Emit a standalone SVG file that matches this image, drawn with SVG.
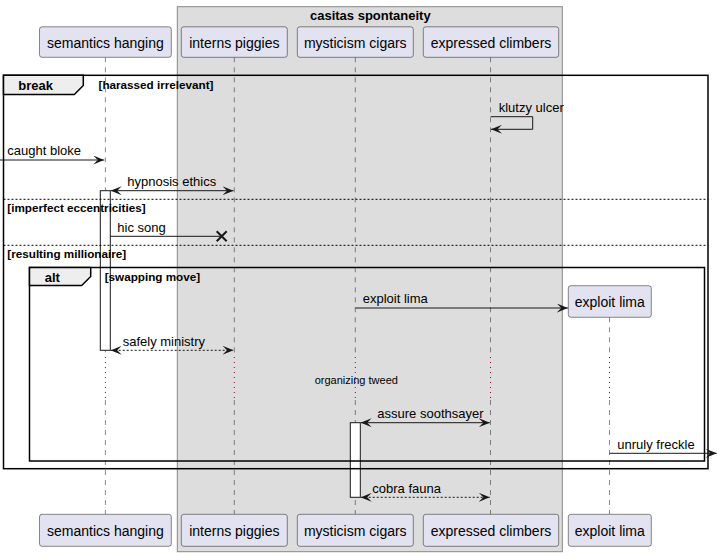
<svg xmlns="http://www.w3.org/2000/svg" width="717" height="556" viewBox="0 0 717 556">
<style>
text{font-family:"Liberation Sans",Arial,sans-serif;fill:#000}
.pbox{fill:#E2E2F0;stroke:#181818;stroke-width:0.5}
.ptxt{font-size:14px;text-anchor:middle}
.life{stroke:#181818;stroke-width:0.5;stroke-dasharray:5,5;fill:none}
.delay{stroke:#A80036;stroke-width:1;stroke-dasharray:1,4;fill:none}
.act{fill:#FFFFFF;stroke:#181818;stroke-width:1}
.frame{fill:none;stroke:#000;stroke-width:1.5}
.tab{fill:#EEEEEE;stroke:#000;stroke-width:1.5}
.sep{stroke:#000;stroke-width:1;stroke-dasharray:2,2}
.ftitle{font-size:13px;font-weight:bold}
.cond{font-size:11.7px;font-weight:bold}
.msg{stroke:#181818;stroke-width:1;fill:none}
.dash{stroke-dasharray:2,2}
.mtxt{font-size:13px}
</style>
<defs>
<marker id="ah" viewBox="0 0 11 9" refX="11" refY="4.5" markerWidth="11" markerHeight="9" markerUnits="userSpaceOnUse" orient="auto-start-reverse">
<path d="M0,0 L11,4.5 L0,9 L4.5,4.5 Z" fill="#181818"/>
</marker>
</defs>

<g id="box-casitas">
<rect x="177.3" y="6.7" width="385" height="545" fill="#DDDDDD" stroke="#888888" stroke-width="1"/>
<text x="370.3" y="19.5" class="ftitle" text-anchor="middle">casitas spontaneity</text>
</g>

<g id="lifelines">
<line class="life" x1="105.4" y1="57.3" x2="105.4" y2="356"/>
<line class="delay" x1="105.4" y1="357" x2="105.4" y2="399"/>
<line class="life" x1="105.4" y1="400" x2="105.4" y2="514.3"/>
<line class="life" x1="234.3" y1="57.3" x2="234.3" y2="356"/>
<line class="delay" x1="234.3" y1="357" x2="234.3" y2="399"/>
<line class="life" x1="234.3" y1="400" x2="234.3" y2="514.3"/>
<line class="life" x1="355.3" y1="57.3" x2="355.3" y2="356"/>
<line class="delay" x1="355.3" y1="357" x2="355.3" y2="399"/>
<line class="life" x1="355.3" y1="400" x2="355.3" y2="514.3"/>
<line class="life" x1="490.5" y1="57.3" x2="490.5" y2="356"/>
<line class="delay" x1="490.5" y1="357" x2="490.5" y2="399"/>
<line class="life" x1="490.5" y1="400" x2="490.5" y2="514.3"/>
<line class="life" x1="609.5" y1="317.3" x2="609.5" y2="356"/>
<line class="delay" x1="609.5" y1="357" x2="609.5" y2="399"/>
<line class="life" x1="609.5" y1="400" x2="609.5" y2="514.3"/>
</g>

<g id="activations">
<rect class="act" x="100.3" y="190.7" width="10" height="159.6"/>
<rect class="act" x="350.3" y="422.7" width="10" height="74.6"/>
</g>

<g id="frag-break">
<rect class="frame" x="3.5" y="75.3" width="704.5" height="393.4"/>
<path class="tab" d="M3.5,75.3 H83.3 V85.5 L74.3,94.5 H3.5 Z"/>
<text x="18.3" y="89.5" class="ftitle">break</text>
<text x="98.5" y="88.5" class="cond">[harassed irrelevant]</text>
<line class="sep" x1="3.5" y1="199.3" x2="708" y2="199.3"/>
<text x="7.3" y="211.5" class="cond">[imperfect eccentricities]</text>
<line class="sep" x1="3.5" y1="245.3" x2="708" y2="245.3"/>
<text x="7.3" y="257.5" class="cond">[resulting millionaire]</text>
</g>

<g id="frag-alt">
<rect class="frame" x="29.5" y="267.5" width="675" height="193.5"/>
<path class="tab" d="M29.5,267.5 H90.7 V276.5 L81.7,285.5 H29.5 Z"/>
<text x="44.7" y="281.5" class="ftitle">alt</text>
<text x="104.7" y="281" class="cond">[swapping move]</text>
</g>

<g id="connectors">
<path class="msg" d="M490.7,116.7 H532.7 V129.3 H491" marker-end="url(#ah)"/>
<text x="498.7" y="112" class="mtxt">klutzy ulcer</text>

<line class="msg" x1="0" y1="160" x2="104.3" y2="160" marker-end="url(#ah)"/>
<text x="7.3" y="155" class="mtxt">caught bloke</text>

<line class="msg" x1="110.7" y1="190.7" x2="233.5" y2="190.7" marker-start="url(#ah)" marker-end="url(#ah)"/>
<text x="127.3" y="186" class="mtxt">hypnosis ethics</text>

<line class="msg" x1="110.3" y1="236.3" x2="221.7" y2="236.3"/>
<path d="M216.7,231.3 L226.7,241.3 M216.7,241.3 L226.7,231.3" stroke="#181818" stroke-width="2" fill="none"/>
<text x="117.3" y="231.5" class="mtxt">hic song</text>

<line class="msg" x1="355.3" y1="308" x2="567.8" y2="308" marker-end="url(#ah)"/>
<text x="362.7" y="303" class="mtxt">exploit lima</text>

<line class="msg dash" x1="110.7" y1="350.3" x2="233.5" y2="350.3" marker-start="url(#ah)" marker-end="url(#ah)"/>
<text x="122.7" y="345.5" class="mtxt">safely ministry</text>

<text x="356.3" y="384" font-size="11px" text-anchor="middle">organizing tweed</text>

<line class="msg" x1="360.7" y1="422.7" x2="489.8" y2="422.7" marker-start="url(#ah)" marker-end="url(#ah)"/>
<text x="377.3" y="418" class="mtxt">assure soothsayer</text>

<line class="msg" x1="609.5" y1="453.3" x2="716.7" y2="453.3" marker-end="url(#ah)"/>
<text x="617.3" y="448.5" class="mtxt">unruly freckle</text>

<line class="msg dash" x1="360.7" y1="497.3" x2="489.8" y2="497.3" marker-start="url(#ah)" marker-end="url(#ah)"/>
<text x="372.3" y="492.5" class="mtxt">cobra fauna</text>
</g>

<g id="p-semantics-hanging">
<rect class="pbox" x="39.5" y="26.8" width="131.8" height="30.5" rx="2.5"/>
<text x="105.4" y="47.5" class="ptxt">semantics hanging</text>
<rect class="pbox" x="39.5" y="514.3" width="131.8" height="32" rx="2.5"/>
<text x="105.4" y="535.5" class="ptxt">semantics hanging</text>
</g>
<g id="p-interns-piggies">
<rect class="pbox" x="181.3" y="26.8" width="106" height="30.5" rx="2.5"/>
<text x="234.3" y="47.5" class="ptxt">interns piggies</text>
<rect class="pbox" x="181.3" y="514.3" width="106" height="32" rx="2.5"/>
<text x="234.3" y="535.5" class="ptxt">interns piggies</text>
</g>
<g id="p-mysticism-cigars">
<rect class="pbox" x="297.3" y="26.8" width="116" height="30.5" rx="2.5"/>
<text x="355.3" y="47.5" class="ptxt">mysticism cigars</text>
<rect class="pbox" x="297.3" y="514.3" width="116" height="32" rx="2.5"/>
<text x="355.3" y="535.5" class="ptxt">mysticism cigars</text>
</g>
<g id="p-expressed-climbers">
<rect class="pbox" x="423.3" y="26.8" width="135.4" height="30.5" rx="2.5"/>
<text x="491" y="47.5" class="ptxt">expressed climbers</text>
<rect class="pbox" x="423.3" y="514.3" width="135.4" height="32" rx="2.5"/>
<text x="491" y="535.5" class="ptxt">expressed climbers</text>
</g>
<g id="p-exploit-lima">
<rect class="pbox" x="568.3" y="285.7" width="83" height="31.6" rx="2.5"/>
<text x="609.8" y="306.5" class="ptxt">exploit lima</text>
<rect class="pbox" x="568.3" y="514.3" width="83" height="32" rx="2.5"/>
<text x="609.8" y="535.5" class="ptxt">exploit lima</text>
</g>
</svg>
